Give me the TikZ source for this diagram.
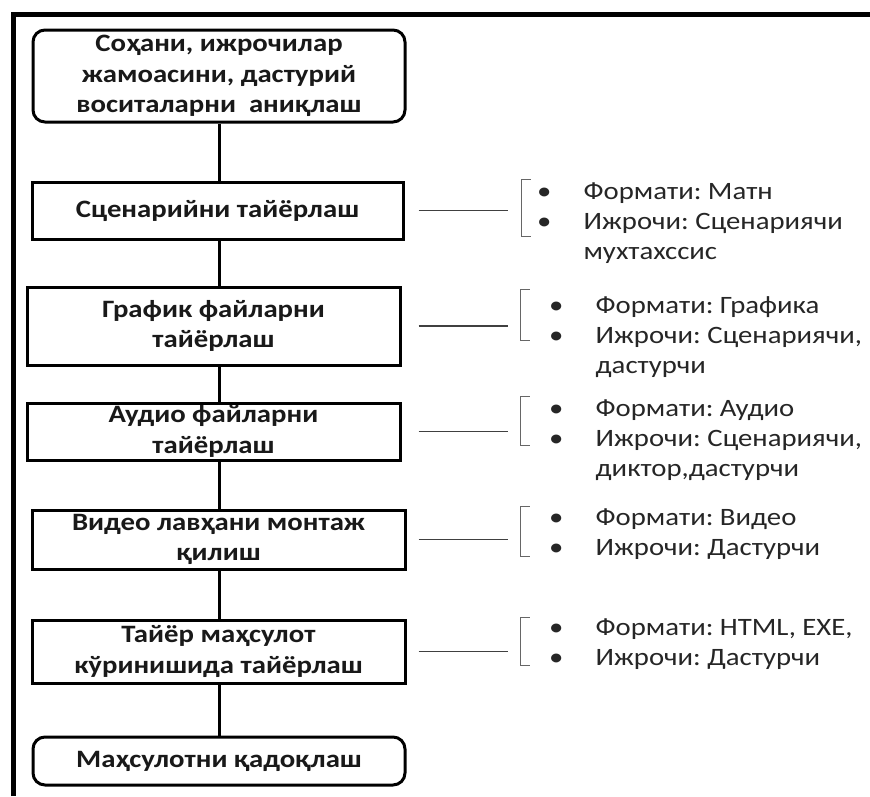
\documentclass[tikz,border=0pt]{standalone}
\usepackage{fontspec}
\setmainfont{Carlito}[FakeStretch=1.15]
\usetikzlibrary{calc}
\frenchspacing
\newcommand{\bul}{\makebox[47.5pt][l]{\hspace*{1pt}•}}
\newcommand{\ind}{\hspace*{47.5pt}}
\begin{document}
\begin{tikzpicture}[x=1pt,y=-1pt,
  box/.style={draw=black, line width=3pt, inner sep=0pt, align=center,
    font=\fontsize{25}{30.5}\selectfont\bfseries, text=black!90},
  rbox/.style={box, rounded corners=12pt},
  conn/.style={line width=3pt, draw=black},
  tie/.style={line width=1.3pt, draw=black!75},
  brk/.style={line width=1.3pt, draw=black!60},
  brnode/.style={inner sep=0pt, minimum width=9pt},
  info/.style={align=left, inner sep=0pt, anchor=base west,
    font=\fontsize{25}{30}\selectfont, text=black!85},
  frame/.style={line width=5pt, draw=black}]
\useasboundingbox (0,0) rectangle (870,796);
\fill[white] (0,0) rectangle (870,796);
\draw[frame] (13,796) -- (13,14.5) -- (870,14.5);
% boxes
\node[rbox, minimum width=372pt, minimum height=92pt] (b1) at (219,76) {Соҳани, ижрочилар\\жамоасини, дастурий\\воситаларни\ \ аниқлаш};
\node[box, minimum width=371pt, minimum height=57pt] (b2) at (217.5,210.5) {Сценарийни тайёрлаш};
\node[box, minimum width=373pt, minimum height=78pt] (b3) at (213.5,326) {График файларни\\тайёрлаш};
\node[box, minimum width=373pt, minimum height=57pt] (b4) at (213.5,431.5) {Аудио файларни\\тайёрлаш};
\node[box, minimum width=373pt, minimum height=59pt] (b5) at (218.5,539.5) {Видео лавҳани монтаж\\қилиш};
\node[box, minimum width=373pt, minimum height=63pt] (b6) at (218.5,651.5) {Тайёр маҳсулот\\кўринишида тайёрлаш};
\node[rbox, minimum width=372pt, minimum height=48pt] (b7) at (219,761) {Маҳсулотни қадоқлаш};
% vertical connectors
\draw[conn] (b1.south) -- (b1.south |- b2.north);
\draw[conn] (b1.south |- b2.south) -- (b1.south |- b3.north);
\draw[conn] (b1.south |- b3.south) -- (b1.south |- b4.north);
\draw[conn] (b1.south |- b4.south) -- (b1.south |- b5.north);
\draw[conn] (b1.south |- b5.south) -- (b1.south |- b6.north);
\draw[conn] (b1.south |- b6.south) -- (b1.south |- b7.north);
% brackets
\node[brnode, minimum height=56pt] (k1) at (526,208) {};
\node[brnode, minimum height=50pt] (k2) at (525,315) {};
\node[brnode, minimum height=48pt] (k3) at (525,421) {};
\node[brnode, minimum height=49pt] (k4) at (525,531.5) {};
\node[brnode, minimum height=47pt] (k5) at (525,641.5) {};
\foreach \k in {k1,k2,k3,k4,k5}
  \draw[brk] (\k.north east) -- (\k.north west) -- (\k.south west) -- (\k.south east);
% ties
\draw[tie] ($(b2.east)+(14,0)$) -- ($(k1.west |- b2.east)+(-13,0)$);
\draw[tie] ($(b3.east)+(17,0)$) -- ($(k2.west |- b3.east)+(-12,0)$);
\draw[tie] ($(b4.east)+(17,0)$) -- ($(k3.west |- b4.east)+(-12,0)$);
\draw[tie] ($(b5.east)+(12,0)$) -- ($(k4.west |- b5.east)+(-12,0)$);
\draw[tie] ($(b6.east)+(12,0)$) -- ($(k5.west |- b6.east)+(-12,0)$);
% info texts (anchor = baseline of last line)
\node[info] (t1) at (536,259) {\bul Формати: Матн\\\bul Ижрочи: Сценариячи\\\ind мухтахссис};
\node[info] (t2) at (548,373) {\bul Формати: Графика\\\bul Ижрочи: Сценариячи,\\\ind дастурчи};
\node[info] (t3) at (548,476) {\bul Формати: Аудио\\\bul Ижрочи: Сценариячи,\\\ind диктор,дастурчи};
\node[info] (t4) at (548,555) {\bul Формати: Видео\\\bul Ижрочи: Дастурчи};
\node[info] (t5) at (548,665) {\bul Формати: HTML, EXE,\\\bul Ижрочи: Дастурчи};
\end{tikzpicture}
\end{document}
